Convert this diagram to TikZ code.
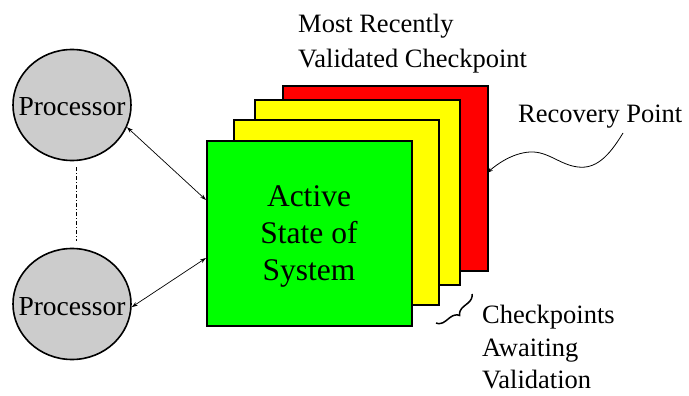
\documentclass[tikz,border=0pt]{standalone}
\usepackage{fontspec}
\setmainfont{Liberation Serif}
\usetikzlibrary{shapes.geometric,arrows.meta,decorations.pathreplacing,calc}
\begin{document}
\begin{tikzpicture}[x=1pt,y=-1pt,
  card/.style={draw=black,line width=1.6pt,anchor=north west,minimum width=205pt,minimum height=185pt,inner sep=0pt},
  proc/.style={ellipse,draw=black,line width=1.6pt,fill=procgray,minimum width=118pt,minimum height=111pt,inner xsep=-16pt,inner ysep=0pt,
     font=\fontsize{27.5}{33}\selectfont,text height=22pt,text depth=0pt},
  lbl/.style={anchor=base west,inner sep=0pt,font=\fontsize{26.5}{33}\selectfont},
  link/.style={line width=0.7pt,{Stealth[length=6pt,width=4pt]}-{Stealth[length=6pt,width=4pt]}}
]
\definecolor{procgray}{RGB}{204,204,204}
\useasboundingbox (0,0) rectangle (689,396);
% stack of states
\node[card,fill={rgb,255:red,255;green,0;blue,0}] (red) at (282,85) {};
\node[card,fill={rgb,255:red,255;green,255;blue,0}] (yb) at (254,99) {};
\node[card,fill={rgb,255:red,255;green,255;blue,0}] (ya) at (233,119) {};
\node[card,fill={rgb,255:red,0;green,255;blue,0}] (green) at (206,140) {};
\node[align=center,inner sep=0pt,font=\fontsize{31.5}{37}\selectfont] (act) at (309,236.5) {Active\\State of\\System};
% processors
\node[proc] (p1) at (72,105) {Processor};
\node[proc] (p2) at (72,304) {Processor};
\coordinate (a1) at (206,200);
\coordinate (a2) at (206,258);
\draw[link] (p1.-22) -- (a1);
\draw[link] (p2.-3) -- (a2);
\coordinate (d1) at (76,167);
\coordinate (d2) at (76,241);
\draw[line width=0.8pt,dash pattern=on 4pt off 2pt on 1pt off 2pt] (d1) -- (d2);
% labels
\node[lbl] (mr1) at (298,33) {Most Recently};
\node[lbl] (mr2) at (298,68) {Validated Checkpoint};
\node[lbl] (rp) at (518,122) {Recovery Point};
\node[lbl] (ck1) at (482,323) {Checkpoints};
\node[lbl] (ck2) at (482,356) {Awaiting};
\node[lbl] (ck3) at (482,388) {Validation};
% recovery point curve
\coordinate (rc) at (623,133);
\coordinate (rt) at (487,173);
\draw[line width=0.8pt,-{Stealth[length=6pt,width=4pt]}] (rc) .. controls (608,158) and (595,169) .. (578,167)
   .. controls (560,165) and (548,151) .. (530,152)
   .. controls (512,153) and (496,165) .. (rt);
% brace
\coordinate (b1) at (472,294);
\coordinate (b2) at (436,323);
\draw[line width=1.5pt,decorate,decoration={brace,amplitude=9pt}] (b1) -- (b2);
\end{tikzpicture}
\end{document}
